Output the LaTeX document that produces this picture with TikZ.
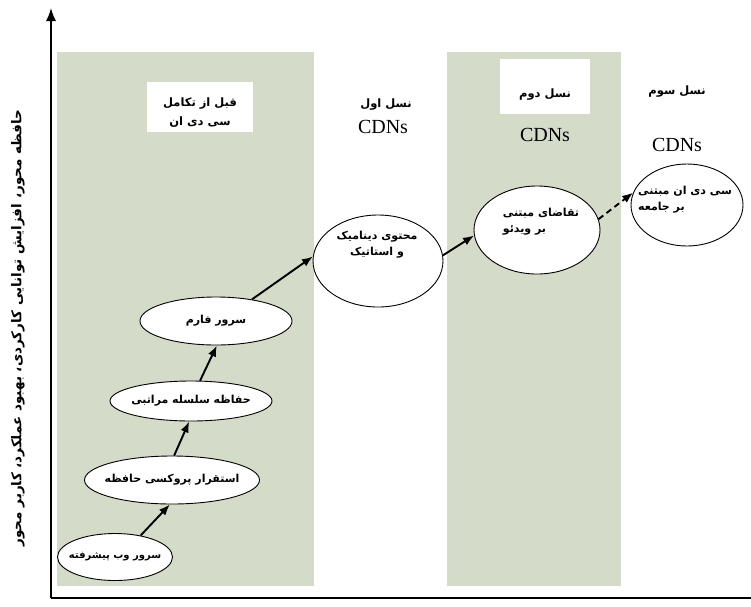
\documentclass[tikz,border=0pt]{standalone}
\usepackage{fontspec}
\setmainfont{Liberation Serif}
\newfontfamily\farsi[Script=Arabic]{DejaVu Sans}
\TeXXeTstate=1
\newcommand{\fa}[1]{{\farsi\bfseries\beginR #1\endR}}
\newcommand{\stagelabel}[1]{\makebox[0pt]{\fa{#1}}}
\usepackage{tikz}
\usetikzlibrary{shapes.geometric,positioning,arrows.meta}
\definecolor{sage}{RGB}{212,219,200}

\begin{document}
\begin{tikzpicture}[
          x=1pt, y=-1pt,
          stage/.style={ellipse, draw, line width=0.9pt, fill=white, inner sep=0pt, font=\fontsize{11}{15}\selectfont},
          stagetext/.style={font=\fontsize{11}{16}\selectfont, inner sep=0pt},
          gen/.style={font=\fontsize{11.5}{19}\selectfont, align=center},
          cdn/.style={font=\fontsize{20}{24}\selectfont},
          arrow/.style={-{Latex[length=11pt, width=8.5pt]}, line width=1.9pt},
          axis/.style={line width=1.5pt}
        ]
          \useasboundingbox (0,0) rectangle (751,606);

          % generation panels
          \fill[sage] (57,52) rectangle (314,586);
          \fill[sage] (447,52) rectangle (621,586);

          % axes
          \coordinate (origin) at (51,598);
          \coordinate (ytop) at (51,8);
          \coordinate (xend) at (751,598);
          \draw[axis, -{Latex[length=13pt, width=10pt]}] (origin) -- (ytop);
          \draw[axis] (origin) -- (xend);
          \node[rotate=90, font=\fontsize{13.5}{15}\selectfont] (ylabel) at (18,328)
            {\fa{حافظه محور، افزایش توانایی کارکردی، بهبود عملکرد، کاربر محور}};

          % headers
          \node[fill=white, minimum width=106pt, minimum height=50pt] (pre) at (200,107) {};
          \node[gen] (pretext) at (200,113) {\fa{قبل از تکامل}\\\fa{سی دی ان}};
          \node[gen] (first) at (386,105) {\fa{نسل اول}};
          \node[cdn] (firstcdn) at (383,127) {CDNs};
          \node[fill=white, minimum width=90pt, minimum height=55pt] (second) at (545,86) {};
          \node[gen] (secondtext) at (545,95) {\fa{نسل دوم}};
          \node[cdn] (secondcdn) at (545,135) {CDNs};
          \node[gen] (third) at (677,92) {\fa{نسل سوم}};
          \node[cdn] (thirdcdn) at (677,145) {CDNs};

          % stages
          \node[stage, minimum width=115pt, minimum height=47pt, font=\fontsize{10}{12}\selectfont] (web) at (115,557) {\stagelabel{سرور وب پیشرفته}};
          \node[stage, minimum width=175pt, minimum height=48pt] (proxy) at (172,480) {\stagelabel{استقرار پروکسی حافظه}};
          \node[stage, minimum width=162pt, minimum height=40pt] (hier) at (191,401) {\stagelabel{حفاظه سلسله مراتبی}};
          \node[stage, minimum width=152pt, minimum height=48pt] (farm) at (216,321) {\stagelabel{سرور فارم}};
          \node[stage, minimum width=130pt, minimum height=92pt] (dyn) at (378,261) {};
          \node[stagetext, align=center] (dyntext) at (377,245) {\fa{محتوی دینامیک}\\\fa{و استاتیک}};
          \node[stage, minimum width=126pt, minimum height=88pt] (video) at (537,230) {};
          \node[stagetext, align=left] (videotext) at (541,222) {\fa{تقاضای مبتنی}\\\fa{بر ویدئو}};
          \node[stage, minimum width=112pt, minimum height=82pt] (comm) at (687,205) {};
          \node[stagetext, align=left] (commtext) at (685,200) {\fa{سی دی ان مبتنی}\\\fa{بر جامعه}};

          % evolution path
          \draw[arrow] (web.40) -- (proxy.265);
          \draw[arrow] (proxy.85) -- (hier.265);
          \draw[arrow] (hier.66) -- (farm.272);
          \draw[arrow] (farm.31) -- (dyn.176);
          \draw[arrow] (dyn.5) -- (video.185);
          \draw[arrow, dashed, dash pattern=on 6pt off 4pt] (video.10) -- (comm.167);

        \end{tikzpicture}
\end{document}
